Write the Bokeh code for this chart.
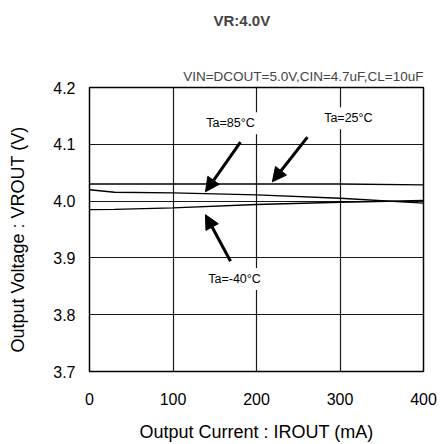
from bokeh.plotting import figure
from bokeh.models import Label, Arrow, NormalHead, FixedTicker, Range1d, Title
from bokeh.embed import file_html
from bokeh.resources import INLINE

# ---- data ----
current = [0, 30, 100, 200, 300, 400]
vout_25 = [4.030, 4.030, 4.030, 4.030, 4.030, 4.0285]
vout_85 = [4.020, 4.0156, 4.0144, 4.011, 4.005, 3.9965]
vout_m40 = [3.985, 3.9855, 3.988, 3.994, 3.998, 4.001]

x_ticks = [0, 100, 200, 300, 400]
y_ticks = [3.7, 3.8, 3.9, 4.0, 4.1, 4.2]

FONT = "Liberation Sans"

p = figure(width=441, height=444, output_backend="svg", toolbar_location=None,
           x_range=Range1d(0, 400), y_range=Range1d(3.7, 4.2),
           min_border_left=89, min_border_right=18, min_border_top=87,
           min_border_bottom=71)
p.outline_line_color = "black"
p.outline_line_width = 1.5

# main title (outer) and subtitle (next to frame)
p.title.text = "VR:4.0V"
p.title.align = "left"
p.title.offset = 124
p.title.text_font = FONT
p.title.text_font_size = "15px"
p.title.text_font_style = "bold"
p.title.standoff = 8
sub = Title(text="VIN=DCOUT=5.0V,CIN=4.7uF,CL=10uF", align="right",
            text_font=FONT, text_font_size="13.5px", text_font_style="normal",
            standoff=7)
p.add_layout(sub, "above")
spacer = Title(text="\u00a0", text_font_size="22px", standoff=4)
p.add_layout(spacer, "above")

for ax in (p.xaxis[0], p.yaxis[0]):
    ax.axis_line_color = None
    ax.major_tick_line_color = None
    ax.minor_tick_line_color = None
    ax.major_tick_out = 0
    ax.major_tick_in = 0
    ax.minor_tick_out = 0
    ax.major_label_text_font = FONT
    ax.major_label_text_font_size = "16px"
    ax.major_label_text_color = "black"
    ax.axis_label_text_font = FONT
    ax.axis_label_text_font_size = "18px"
    ax.axis_label_text_font_style = "normal"
    ax.axis_label_text_color = "black"

p.xaxis[0].ticker = FixedTicker(ticks=x_ticks)
p.yaxis[0].ticker = FixedTicker(ticks=y_ticks)
p.xaxis[0].major_label_standoff = 21
p.yaxis[0].major_label_standoff = 14
p.yaxis[0].major_label_overrides = {t: f"{t:.1f}" for t in y_ticks}
p.xaxis[0].axis_label = "Output Current : IROUT (mA)"
p.yaxis[0].axis_label = "Output Voltage : VROUT (V)" + "\u00a0" * 4
p.xaxis[0].axis_label_standoff = 14
p.yaxis[0].axis_label_standoff = 22

p.xgrid.ticker = FixedTicker(ticks=[100, 200, 300])
p.ygrid.ticker = FixedTicker(ticks=[3.8, 3.9, 4.0, 4.1])
for g in (p.xgrid[0], p.ygrid[0]):
    g.grid_line_color = "black"
    g.grid_line_width = 1.2
    g.grid_line_alpha = 0.9

for ys in (vout_25, vout_85, vout_m40):
    p.line(current, ys, line_color="black", line_width=1.4)

def lab(x, y, text):
    l = Label(x=x, y=y, text=text, text_font=FONT, text_font_size="12.5px",
              text_align="center", text_baseline="middle", text_color="black",
              background_fill_color="white", padding=4)
    p.add_layout(l)

lab(168.9, 4.137, "Ta=85\u00b0C")
lab(310, 4.146, "Ta=25\u00b0C")
lab(173.7, 3.863, "Ta=-40\u00b0C")

for (xs, ys, xe, ye) in [(180.8, 4.104, 138.9, 4.0164),
                         (261.0, 4.1126, 219.0, 4.034),
                         (168.9, 3.894, 138.9, 3.976)]:
    p.add_layout(Arrow(x_start=xs, y_start=ys, x_end=xe, y_end=ye,
                       line_color="black", line_width=3,
                       end=NormalHead(size=14, fill_color="black", line_color="black")))

open("out.html", "w").write(file_html(p, INLINE))
